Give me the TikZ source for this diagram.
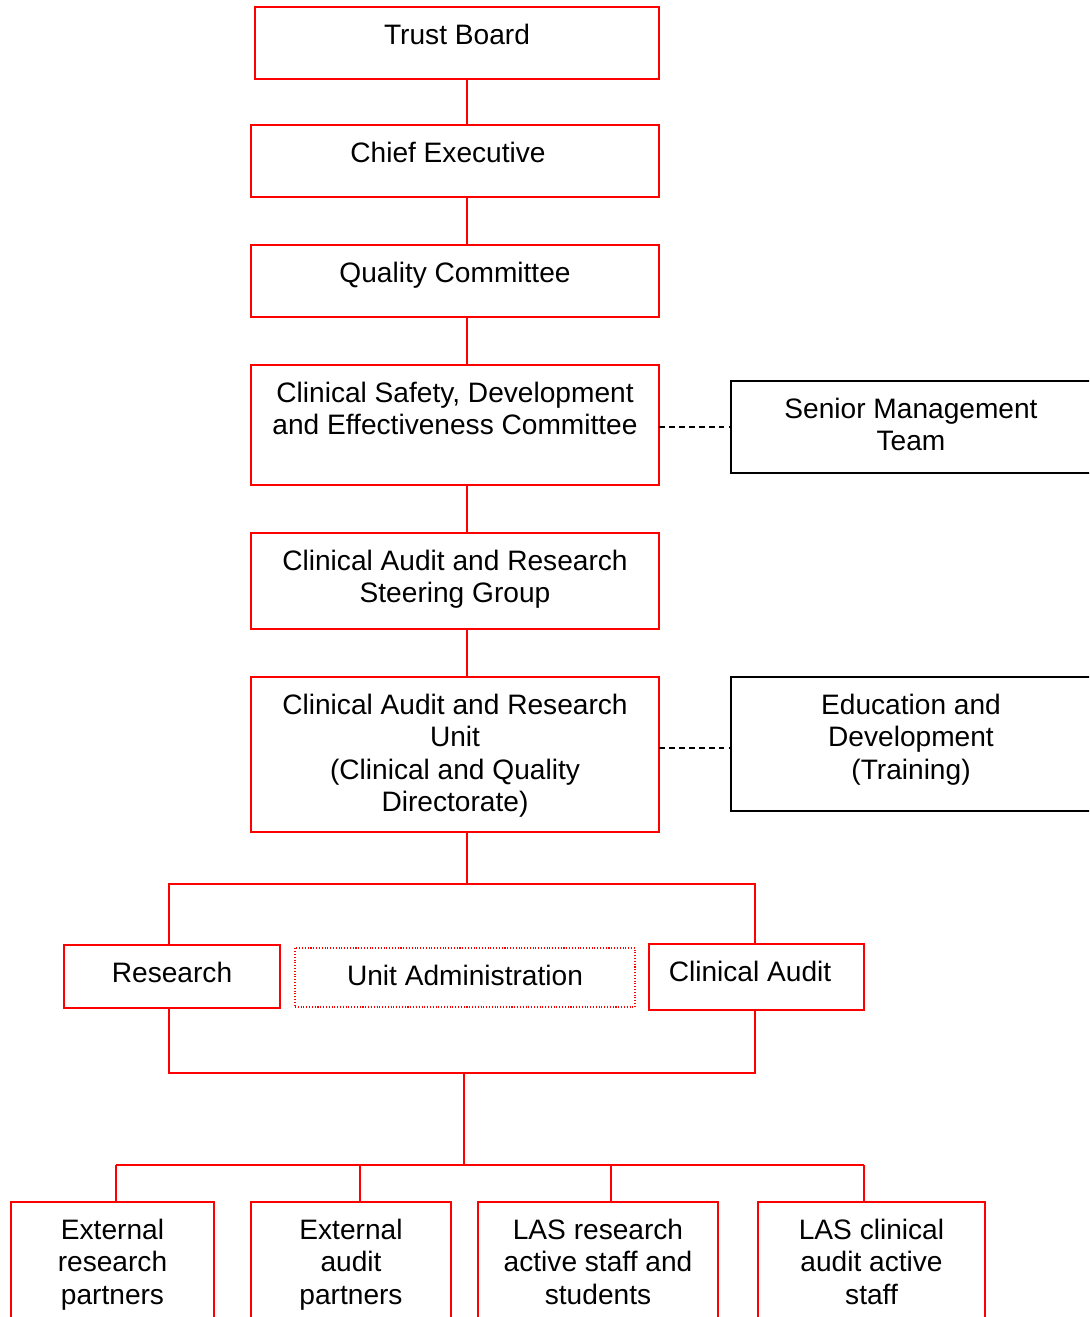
\documentclass[tikz,border=0pt]{standalone}
\usepackage{fontspec}
\setmainfont{Liberation Sans}
\usetikzlibrary{calc}
\newdimen\px \px=0.02cm
\newcommand\bt[3]{\parbox[t][#2\px][t]{#1\px}{\centering\rule{0pt}{37.5\px}#3}}
\begin{document}
\begin{tikzpicture}[x=0.02cm,y=-0.02cm,
 every node/.style={font=\fontsize{16}{18.4}\selectfont, inner sep=0pt, outer sep=0pt, anchor=north west},
 rbox/.style={draw=red, line width=1.1pt},
 kbox/.style={draw=black, line width=0.8pt},
 dbox/.style={draw=red, line width=0.6pt, densely dotted},
 conn/.style={draw=red, line width=1.1pt},
 link/.style={draw=black, line width=0.8pt, dash pattern=on 0.11cm off 0.09cm}]
\path[use as bounding box, clip] (0,0) rectangle (1089,1317);
\node[rbox] (tb) at (255,7) {\bt{404}{72}{Trust Board}};
\node[rbox] (ce) at (251,125) {\bt{408}{72}{Chief Executive\hspace*{14\px}}};
\node[rbox] (qc) at (251,245) {\bt{408}{72}{Quality Committee}};
\node[rbox] (csd) at (251,365) {\bt{408}{120}{Clinical Safety, Development\\and Effectiveness Committee}};
\node[rbox] (sg) at (251,533) {\bt{408}{96}{Clinical Audit and Research\\Steering Group}};
\node[rbox] (caru) at (251,677) {\bt{408}{155}{Clinical Audit and Research\\Unit\\(Clinical and Quality\\Directorate)}};
\node[kbox] (smt) at (731,381) {\bt{360}{92}{Senior Management\\Team}};
\node[kbox] (edu) at (731,677) {\bt{360}{134}{Education and\\Development\\(Training)}};
\node[rbox] (res) at (64,945) {\bt{216}{63}{Research}};
\node[dbox] (ua) at (295,948) {\bt{340}{59}{Unit Administration}};
\node[rbox] (ca) at (649,944) {\bt{215}{66}{Clinical Audit\hspace*{13\px}}};
\node[rbox] (b1) at (11,1202) {\bt{203}{150}{External\\research\\partners}};
\node[rbox] (b2) at (251,1202) {\bt{200}{150}{External\\audit\\partners}};
\node[rbox] (b3) at (478,1202) {\bt{240}{150}{LAS research\\active staff and\\students}};
\node[rbox] (b4) at (758,1202) {\bt{227}{150}{LAS clinical\\audit active\\staff}};
\coordinate (sp) at (467,0);
\foreach \a/\b in {tb/ce,ce/qc,qc/csd,csd/sg,sg/caru}
  \draw[conn] (\a.south -| sp) -- (\b.north -| sp);
\coordinate (j1) at (467,884);
\coordinate (lx) at (169,0);
\coordinate (rx) at (755,0);
\draw[conn] (caru.south -| sp) -- (j1);
\draw[conn] (res.north -| lx) |- (j1) -| (ca.north -| rx);
\coordinate (j2) at (464,1073);
\draw[conn] (res.south -| lx) |- (j2) -| (ca.south -| rx);
\coordinate (j3) at (464,1165);
\draw[conn] (j2) -- (j3);
\coordinate (d1) at (116,1165);
\coordinate (d2) at (360,1165);
\coordinate (d3) at (611,1165);
\coordinate (d4) at (864,1165);
\draw[conn] (d1) -- (d4);
\foreach \k in {1,2,3,4}
  \draw[conn] (d\k) -- (d\k |- b\k.north);
\draw[link] (smt.west -| csd.east) -- (smt.west);
\coordinate (e) at ($(edu.west)+(0,4)$);
\draw[link] (e -| caru.east) -- (e);
\end{tikzpicture}
\end{document}
